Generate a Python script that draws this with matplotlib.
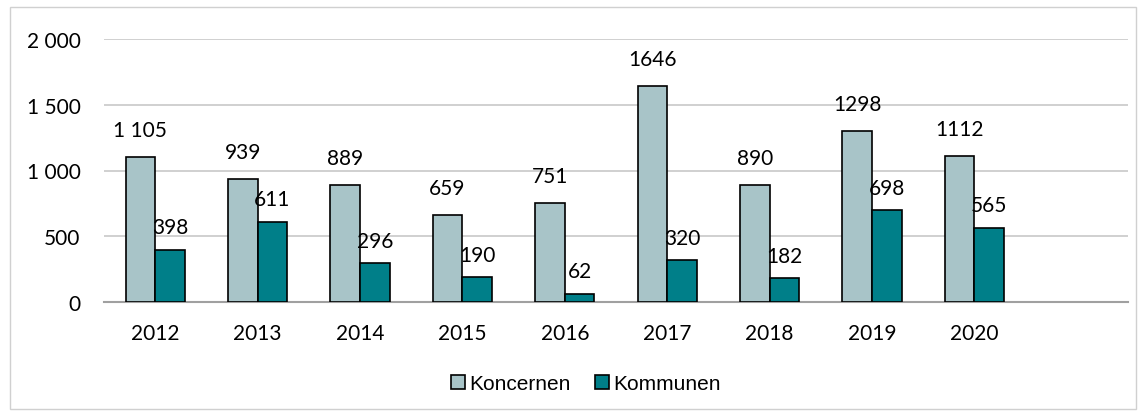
import matplotlib.pyplot as plt
import numpy as np
from matplotlib.patches import Rectangle

# data
years = ['2012', '2013', '2014', '2015', '2016', '2017', '2018', '2019', '2020', '']
koncernen = [1105, 939, 889, 659, 751, 1646, 890, 1298, 1112, np.nan]
kommunen = [398, 611, 296, 190, 62, 320, 182, 698, 565, np.nan]
koncernen_labels = ['1 105', '939', '889', '659', '751', '1646', '890', '1298', '1112']
kommunen_labels = ['398', '611', '296', '190', '62', '320', '182', '698', '565']
y_ticks = [0, 500, 1000, 1500, 2000]
y_ticklabels = ['0', '500', '1 000', '1 500', '2 000']

c_kon = '#A8C4C8'
c_kom = '#007F89'
font = 'Lato'
fs = 15

fig = plt.figure(figsize=(11.42, 4.14), dpi=100)
ax = fig.add_axes([104 / 1142, 1 - 303 / 414, 1024 / 1142, 263 / 414])

x = np.arange(len(years))
w = 0.29
b1 = ax.bar(x - w / 2, koncernen, w, color=c_kon, edgecolor='black', linewidth=1.2,
            label='Koncernen', zorder=3)
b2 = ax.bar(x + w / 2, kommunen, w, color=c_kom, edgecolor='black', linewidth=1.2,
            label='Kommunen', zorder=3)

for i, lab in enumerate(koncernen_labels):
    ax.text(x[i] - w / 2, koncernen[i] + 205, lab, ha='center', va='center',
            fontsize=fs, family=font)
for i, lab in enumerate(kommunen_labels):
    ax.text(x[i] + w / 2, kommunen[i] + 170, lab, ha='center', va='center',
            fontsize=fs, family=font)

ax.set_xlim(-0.5, len(years) - 0.5)
ax.set_ylim(0, 2000)
ax.set_yticks(y_ticks)
ax.set_yticklabels(y_ticklabels, family=font, fontsize=fs)
ax.set_xticks(x)
ax.set_xticklabels(years, family=font, fontsize=fs)
ax.tick_params(length=0)
ax.tick_params(axis='y', pad=17)
ax.tick_params(axis='x', pad=15)
ax.grid(axis='y', color='#C8C8C8', linewidth=1.2, zorder=0)
for s in ['top', 'right', 'left']:
    ax.spines[s].set_visible(False)
ax.spines['bottom'].set_color('#A0A0A0')
ax.spines['bottom'].set_linewidth(1.5)

fig.legend(handles=[b1, b2], loc='center', bbox_to_anchor=(586 / 1142, 1 - 385 / 414),
           ncol=2, frameon=False, handlelength=0.65, handleheight=0.65, handletextpad=0.2,
           columnspacing=1.2, prop={'family': 'Liberation Sans', 'size': 15})

fig.add_artist(Rectangle((10 / 1142, 4 / 414), 1126 / 1142, 402 / 414,
                         transform=fig.transFigure, fill=False, edgecolor='#D0D0D0',
                         linewidth=1))

fig.savefig('out.png', dpi=100)
